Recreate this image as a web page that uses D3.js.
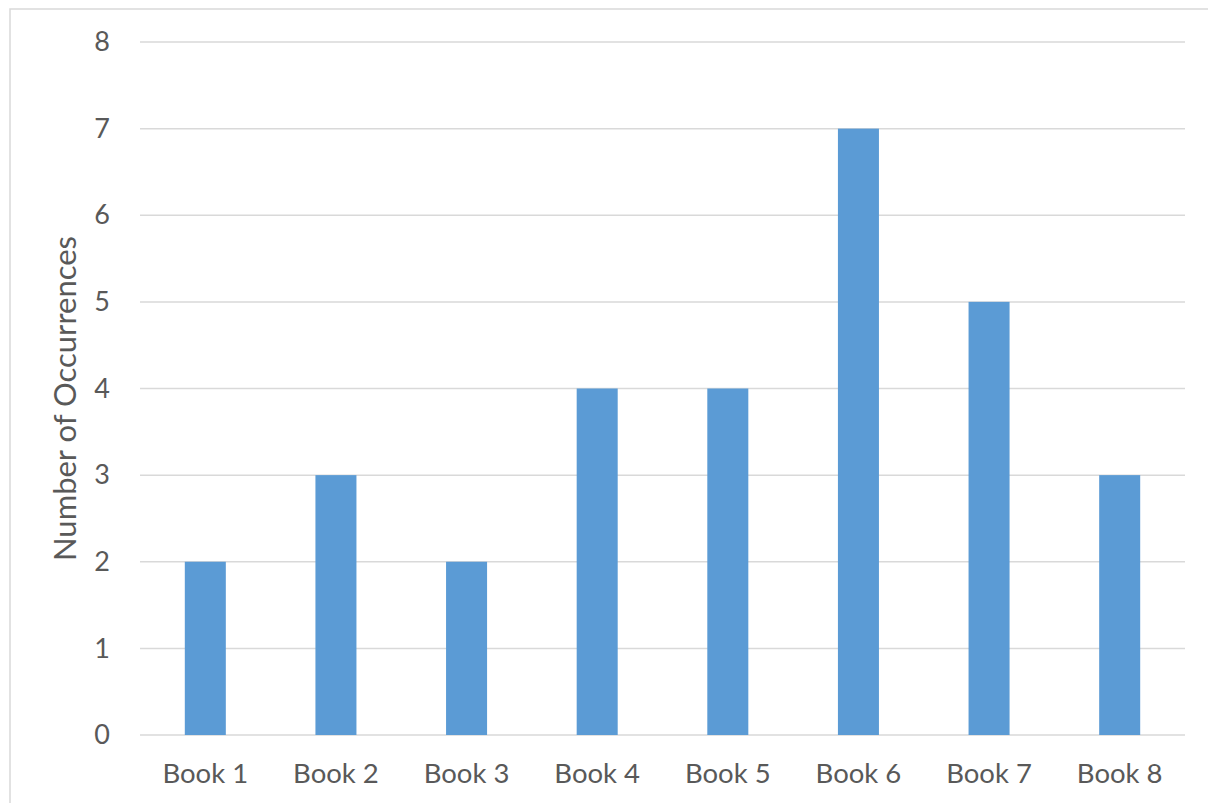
<!DOCTYPE html>
<html>
<head>
    <meta charset='utf-8'>
    <title>Occurrences</title>
    <script src='https://cdn.jsdelivr.net/npm/d3@7/dist/d3.min.js'></script>
    <style>
        body { margin: 0; background: #fff; }
        text { font-family: Lato, 'Open Sans', sans-serif; fill: #595959; }
    </style>
</head>
<body>
    <svg width='1208' height='803'></svg>
    <script>
        const books = ['Book 1', 'Book 2', 'Book 3', 'Book 4', 'Book 5', 'Book 6', 'Book 7', 'Book 8']
        const occurrences = [2, 3, 2, 4, 4, 7, 5, 3]
        const yTicks = [0, 1, 2, 3, 4, 5, 6, 7, 8]

        const svg = d3.select('svg')
        const margin = { top: 42, left: 140, right: 23, bottom: 68 }
        const width = 1208 - margin.left - margin.right
        const height = 803 - margin.top - margin.bottom

        // chart frame
        svg.append('rect')
            .attr('x', 10).attr('y', 9)
            .attr('width', 1220).attr('height', 820)
            .attr('fill', 'none')
            .attr('stroke', '#d9d9d9')
            .attr('stroke-width', 1.5)

        const g = svg.append('g').attr('transform', `translate(${margin.left},${margin.top})`)

        const x = d3.scaleBand().domain(books).range([0, width]).paddingInner(0.686).paddingOuter(0.343)
        const y = d3.scaleLinear().domain([0, 8]).range([height, 0])

        // gridlines
        g.append('g')
            .selectAll('line')
            .data(yTicks)
            .join('line')
            .attr('x1', 0).attr('x2', width)
            .attr('y1', d => y(d)).attr('y2', d => y(d))
            .attr('stroke', '#d9d9d9')
            .attr('stroke-width', 1.5)

        // y axis labels
        const yAxis = g.append('g')
            .call(d3.axisLeft(y).tickValues(yTicks).tickSize(0).tickPadding(30))
        yAxis.select('.domain').remove()
        yAxis.selectAll('text').attr('font-size', 27).attr('fill', '#595959').style('font-family', 'Lato, sans-serif')

        // bars
        g.append('g')
            .selectAll('rect')
            .data(occurrences)
            .join('rect')
            .attr('x', (d, i) => x(books[i]))
            .attr('y', d => y(d))
            .attr('width', x.bandwidth())
            .attr('height', d => height - y(d))
            .attr('fill', '#5b9bd5')

        // x axis labels
        const xAxis = g.append('g')
            .attr('transform', `translate(0,${height})`)
            .call(d3.axisBottom(x).tickSize(0).tickPadding(28))
        xAxis.select('.domain').remove()
        xAxis.selectAll('text').attr('font-size', 27.5).attr('fill', '#595959').style('font-family', 'Lato, sans-serif')

        // y axis title
        svg.append('text')
            .attr('transform', `translate(76,${margin.top + height / 2 + 10}) rotate(-90)`)
            .attr('text-anchor', 'middle')
            .attr('font-size', 31)
            .text('Number of Occurrences')
    </script>
</body>
</html>
